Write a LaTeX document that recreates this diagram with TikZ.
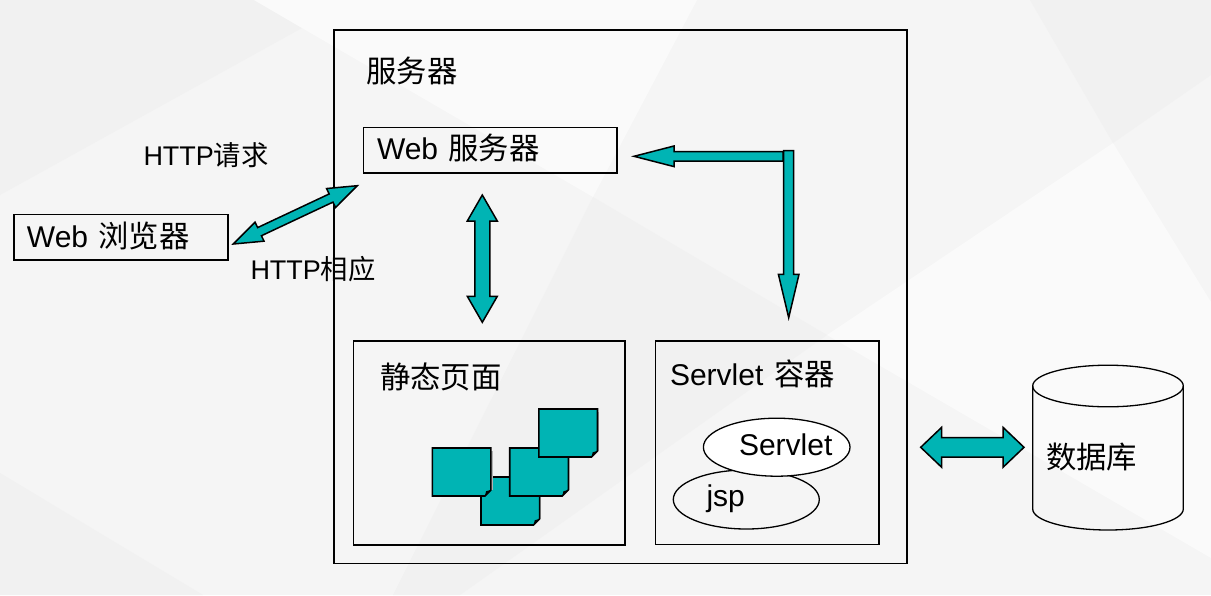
\documentclass[tikz,border=0pt]{standalone}
\usepackage{fontspec}
\setmainfont{Liberation Sans}
\newfontfamily\cjk[Scale=1.012]{Noto Sans CJK SC}
\usetikzlibrary{calc,shapes.geometric}
\definecolor{bgbase}{HTML}{F5F5F5}
\definecolor{bgdark}{HTML}{F1F1F1}
\definecolor{bglight}{HTML}{FAFAFA}
\definecolor{teal}{HTML}{00B4B4}
\tikzset{
  frame/.style={draw=black,line width=1.6pt,fill=none,inner sep=0pt,outer sep=0pt,anchor=north west},
  label30/.style={anchor=base west,inner sep=0pt,outer sep=0pt,font=\fontsize{30}{36}\selectfont},
  label27/.style={anchor=base west,inner sep=0pt,outer sep=0pt,font=\fontsize{27}{32}\selectfont},
  blockarrow/.style={draw=black,fill=teal,line width=1.5pt,line join=miter,miter limit=10},
  oval/.style={ellipse,draw=black,line width=1.3pt,inner sep=0pt,outer sep=0pt},
  sheet/.style={draw=black,fill=teal,line width=1.6pt,line join=miter},
}
% double-headed block arrow: tips, head length, head half width, shaft half width
\newcommand\dblblock[5]{%
  \coordinate (h1) at ($(#1)!#3!(#2)$);
  \coordinate (h2) at ($(#2)!#3!(#1)$);
  \draw[blockarrow] (#1) -- ($(h1)!#4!90:(#2)$) -- ($(h1)!#5!90:(#2)$)
    -- ($(h2)!#5!-90:(#1)$) -- ($(h2)!#4!-90:(#1)$) -- (#2)
    -- ($(h2)!#4!90:(#1)$) -- ($(h2)!#5!90:(#1)$)
    -- ($(h1)!#5!-90:(#2)$) -- ($(h1)!#4!-90:(#2)$) -- cycle;
}
% single-headed block arrow: tail, tip, head length, head half width, shaft half width
\newcommand\oneblock[5]{%
  \coordinate (h2) at ($(#2)!#3!(#1)$);
  \draw[blockarrow] ($(#1)!#5!90:(#2)$) -- ($(h2)!#5!-90:(#1)$) -- ($(h2)!#4!-90:(#1)$) -- (#2)
    -- ($(h2)!#4!90:(#1)$) -- ($(h2)!#5!90:(#1)$) -- ($(#1)!#5!-90:(#2)$) -- cycle;
}
% page with a turned corner: name, left, top
\newcommand\pagesheet[3]{%
  \coordinate (#1) at (#2,#3);
  \fill[black!30] ($(#1)+(58.6,3)$) rectangle ($(#1)+(60.2,42)$);
  \draw[sheet] (#1) -- ++(58.6,0) -- ++(0,42) -- ++(-6,6) -- ++(-52.6,0) -- cycle;
  \fill[black] ($(#1)+(52.6,48)$) -- ($(#1)+(53.8,43.2)$) -- ($(#1)+(58.6,42)$) -- cycle;
}
\begin{document}
\begin{tikzpicture}[x=1pt,y=-1pt]
\useasboundingbox (0,0) rectangle (1211,595);
% background
\fill[bgbase] (0,0) rectangle (1211,595);
\fill[bgdark] (0,0) -- (254,0) -- (302,28) -- (0,195) -- cycle;
\fill[bglight] (254,0) -- (302,28) -- (593,197) -- (697,0) -- cycle;
\fill[bgdark] (593,197) -- (827,335) -- (460,595) -- (393,595) -- cycle;
\fill[bglight] (1113,143) -- (827,335) -- (1211,558) -- (1211,302) -- cycle;
\fill[bgdark] (1030,0) -- (1211,0) -- (1211,75) -- (1113,143) -- cycle;
\fill[bgdark] (0,473) -- (203,595) -- (0,595) -- cycle;
% boxes
\node[frame,minimum width=573pt,minimum height=533.5pt] (server) at (334,30) {};
\node[frame,minimum width=253.4pt,minimum height=45.7pt] (webserver) at (363.3,127.3) {};
\node[frame,minimum width=214pt,minimum height=45.7pt] (browser) at (13.7,214.3) {};
\node[frame,minimum width=271.5pt,minimum height=204.3pt] (static) at (353.5,340.7) {};
\node[frame,minimum width=223.4pt,minimum height=203.3pt] (container) at (655.3,341) {};
% box labels
\node[label30] (lserver) at (366.5,82) {\cjk 服务器};
\node[label30] (lweb) at (377,159.5) {Web\hspace{10.3pt}{\cjk 服务器}};
\node[label30] (lbrowser) at (27,247) {Web\hspace{10.3pt}{\cjk 浏览器}};
\node[label27] (lreq) at (143.5,165) {HTTP{\cjk 请求}};
\node[label27] (lresp) at (250.5,279) {HTTP{\cjk 相应}};
\node[label30] (lstatic) at (380,388) {\cjk 静态页面};
\node[label30] (lcontainer) at (670,385) {Servlet\hspace{10.8pt}{\cjk 容器}};
% pages
\pagesheet{pb}{481}{477}
\pagesheet{pa}{432.3}{448}
\pagesheet{pc}{509.7}{448}
\pagesheet{pd}{538.9}{409}
% ellipses
\node[oval,minimum width=146pt,minimum height=59pt] (jsp) at (746.3,499.5) {};
\node[oval,fill=white,minimum width=146.6pt,minimum height=58pt] (servlet) at (776.7,447.2) {};
\node[label30] (ljsp) at (706.5,506) {jsp};
\node[label30] (lservlet) at (739,455) {Servlet};
% database
\draw[line width=1.3pt,fill=none] (1032.7,386) -- (1032.7,509) arc[start angle=180,end angle=360,x radius=75.3pt,y radius=21pt] -- (1183.3,386);
\draw[line width=1.3pt,fill=none] (1108,386) ellipse[x radius=75.3pt,y radius=20.8pt];
\coordinate (db) at (1108,386);
\node[label30] (ldb) at (1046,468) {\cjk 数据库};
% connectors
\coordinate (a1) at (233.3,244);
\coordinate (a2) at (357.3,185.7);
\dblblock{a1}{a2}{29pt}{10.5pt}{4.5pt}
\coordinate (b1) at (482.3,195);
\coordinate (b2) at (482.3,322.3);
\dblblock{b1}{b2}{26pt}{15pt}{7.5pt}
\coordinate (c1) at (920.7,447.3);
\coordinate (c2) at (1024,447.3);
\dblblock{c1}{c2}{21pt}{20pt}{9.8pt}
\coordinate (d0) at (783,156.3);
\coordinate (d1) at (634,156.3);
\oneblock{d0}{d1}{40pt}{10.3pt}{4.7pt}
\coordinate (e0) at (788.7,150.7);
\coordinate (e1) at (788.7,317.7);
\oneblock{e0}{e1}{43.4pt}{10.3pt}{5pt}
\end{tikzpicture}
\end{document}
